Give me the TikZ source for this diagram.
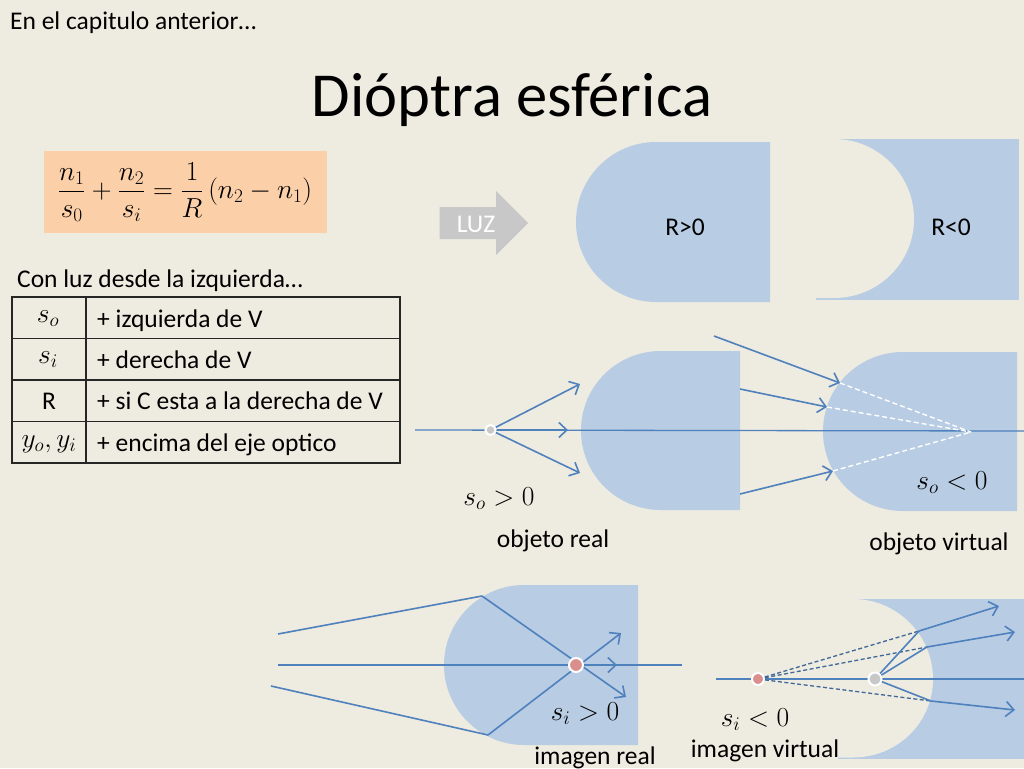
\documentclass[tikz,border=0pt]{standalone}
\usepackage{fix-cm}
\usepackage{amsmath}
\usepackage{fontspec}
\setmainfont{Carlito}
\usetikzlibrary{arrows.meta}
\definecolor{fondo}{HTML}{EEEBE0}
\definecolor{vidrio}{HTML}{B8CCE4}
\definecolor{rayo}{HTML}{4F81BD}
\definecolor{caja}{HTML}{FBCFA8}
\definecolor{flecha}{HTML}{C8C8C8}
\definecolor{rojo}{HTML}{D98F8C}
\tikzset{
	txt/.style={inner sep=0pt,font=\fontsize{25.5}{28}\selectfont},
	mat/.style={inner sep=0pt,font=\fontsize{27.5}{30}\selectfont},
	ray/.style={rayo,line width=1.6pt},
	axisline/.style={rayo,line width=1.3pt},
	dashw/.style={white,line width=1.4pt,dash pattern=on 5pt off 3pt},
	dashb/.style={rayo!80!black,line width=1.3pt,dash pattern=on 4pt off 2.5pt},
	dotw/.style={circle,draw=white,line width=2pt,minimum size=12pt,inner sep=0pt,fill=#1},
	celda/.style={draw=black!85,line width=1.6pt}
}
\begin{document}
\begin{tikzpicture}[x=1pt,y=-1pt,>={Straight Barb[length=8pt,width=15pt]}]
	\useasboundingbox (0,0) rectangle (1024,768);
	\fill[fondo] (0,0) rectangle (1024,768);
	\node[txt,anchor=base west] (prev) at (10,30) {En el capitulo anterior…};
	\node[inner sep=0pt,font=\fontsize{62.6}{68}\selectfont,anchor=base] (title) at (512,116) {Dióptra esférica};
	% formula
	\fill[caja] (44,151) rectangle (327,233);
	\node[inner sep=0pt,font=\fontsize{27.5}{30}\selectfont] (lens) at (185,192) {$\dfrac{n_1}{s_0}+\dfrac{n_2}{s_i}=\dfrac{1}{R}\,(n_2-n_1)$};
	% luz
	\fill[flecha] (439.5,207) -- (496,207) -- (496,191) -- (528,223) -- (496,255) -- (496,239) -- (439.5,239) -- cycle;
	\node[txt,white] (luz) at (476,224) {LUZ};
	% dioptras
	\fill[vidrio] (770,142) -- (656,142) .. controls (612,142) and (576,178) .. (576,222) .. controls (576,266) and (612,302) .. (656,302) -- (770,302) -- cycle;
	\node[txt] (rpos) at (685,227) {R>0};
	\fill[vidrio] (816,139) rectangle (1019,299.5);
	\fill[fondo] (816,139) -- (834,139) .. controls (878,139) and (914,175) .. (914,219) .. controls (914,263) and (878,298) .. (834,298) -- (816,298) -- cycle;
	\node[txt] (rneg) at (951,227) {R<0};
	% tabla
	\node[txt,anchor=base west] (conluz) at (17,287) {Con luz desde la izquierda…};
	\draw[celda] (12,297) rectangle (400,463);
	\draw[celda] (86,297) -- (86,463);
	\draw[celda] (12,338.5) -- (400,338.5);
	\draw[celda] (12,380) -- (400,380);
	\draw[celda] (12,421.5) -- (400,421.5);
	\node[mat] (so) at (48,319) {$s_o$};
	\node[mat] (si) at (48,360) {$s_i$};
	\node[txt] (r) at (49,401) {R};
	\node[mat] (yy) at (49,444) {$y_o,y_i$};
	\node[txt,anchor=base west] (tso) at (97,327) {+ izquierda de V};
	\node[txt,anchor=base west] (tsi) at (97,368) {+ derecha de V};
	\node[txt,anchor=base west] (tr) at (97,409) {+ si C esta a la derecha de V};
	\node[txt,anchor=base west] (ty) at (97,451) {+ encima del eje optico};
	% objeto real y virtual
	\fill[vidrio] (740,351) -- (661,351) .. controls (617,351) and (581,386) .. (581,430.5) .. controls (581,475) and (617,510) .. (661,510) -- (740,510) -- cycle;
	\fill[vidrio] (1017,352) -- (903,352) .. controls (859,352) and (823,387) .. (823,431.5) .. controls (823,476) and (859,511) .. (903,511) -- (1017,511) -- cycle;
	\coordinate (a0) at (415,430);
	\coordinate (a1) at (1024,431);
	\coordinate (a2) at (740,430.5);
	\coordinate (a3) at (818,430.5);
	\coordinate (up) at (580,384);
	\coordinate (mid) at (568,430);
	\coordinate (dn) at (580,473);
	\coordinate (s1) at (714,336);
	\coordinate (e1) at (840,383);
	\coordinate (s2) at (740,389);
	\coordinate (e2) at (827,407);
	\coordinate (s3) at (740,494);
	\coordinate (e3) at (833,471);
	\coordinate (virt) at (971,432);
	\draw[axisline] (a0) -- (a1);
	\draw[ray] (a2) -- (a3);
	\node[dotw=flecha,minimum size=10pt] (obj) at (490.5,430) {};
	\draw[ray,->] (obj) -- (up);
	\draw[ray,->] (obj) -- (mid);
	\draw[ray,->] (obj) -- (dn);
	\draw[ray,->] (s1) -- (e1);
	\draw[ray,->] (s2) -- (e2);
	\draw[ray,->] (s3) -- (e3);
	\draw[dashw] (e1) -- (virt);
	\draw[dashw] (e2) -- (virt);
	\draw[dashw] (e3) -- (virt);
	\node[mat] (sopos) at (499,499) {$s_o>0$};
	\node[txt] (oreal) at (553,541) {objeto real};
	\node[mat] (soneg) at (952,483) {$s_o<0$};
	\node[txt] (ovirt) at (939,544) {objeto virtual};
	% imagen real
	\fill[vidrio] (638,585) -- (524,585) .. controls (480,585) and (444,621) .. (444,665) .. controls (444,709) and (480,745) .. (524,745) -- (638,745) -- cycle;
	\coordinate (b0) at (278,665);
	\coordinate (b1) at (682,665);
	\coordinate (b2) at (617,665);
	\coordinate (i1) at (278,634);
	\coordinate (i2) at (482,596);
	\coordinate (i3) at (271,686);
	\coordinate (i4) at (488,735);
	\coordinate (o1) at (626,697);
	\coordinate (o2) at (621,633);
	\draw[axisline] (b0) -- (b1);
	\draw[ray] (i1) -- (i2);
	\draw[ray] (i3) -- (i4);
	\draw[ray,->] (i2) -- (o1);
	\draw[ray,->] (i4) -- (o2);
	\node[dotw=rojo,minimum size=14pt] (img) at (576,665) {};
	\draw[ray,->] (img) -- (b2);
	\node[mat] (sipos) at (585,714) {$s_i>0$};
	\node[txt] (ireal) at (595,758) {imagen real};
	% imagen virtual
	\fill[vidrio] (838,599) rectangle (1024,758.5);
	\fill[fondo] (838,599) -- (853,599) .. controls (897,599) and (933,635) .. (933,679) .. controls (933,723) and (897,757.5) .. (853,757.5) -- (838,757.5) -- cycle;
	\coordinate (c0) at (716,679);
	\coordinate (c1) at (1024,679);
	\coordinate (p1) at (919,631);
	\coordinate (p2) at (927,647);
	\coordinate (p3) at (931,701);
	\coordinate (q1) at (999,606);
	\coordinate (q2) at (1015,632);
	\coordinate (q3) at (1015,710);
	\draw[axisline] (c0) -- (c1);
	\node[dotw=rojo] (ivirt) at (758,679) {};
	\node[dotw=flecha,minimum size=13pt] (fuente) at (875,679) {};
	\draw[dashb] (ivirt) -- (p1);
	\draw[dashb] (ivirt) -- (p2);
	\draw[dashb] (ivirt) -- (p3);
	\draw[ray] (fuente) -- (p1);
	\draw[ray] (fuente) -- (p2);
	\draw[ray] (fuente) -- (p3);
	\draw[ray,->] (p1) -- (q1);
	\draw[ray,->] (p2) -- (q2);
	\draw[ray,->] (p3) -- (q3);
	\node[mat] (sineg) at (755,720) {$s_i<0$};
	\node[txt] (itxt) at (765,751) {imagen virtual};
\end{tikzpicture}
\end{document}
